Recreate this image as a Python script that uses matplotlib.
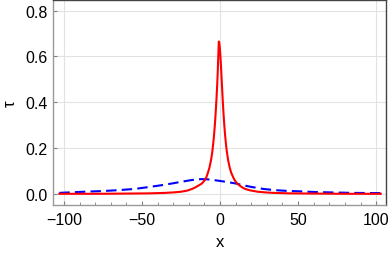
#!/usr/bin/env python3
import numpy as np
import matplotlib
matplotlib.use("Agg")
import matplotlib.pyplot as plt
from matplotlib.ticker import MultipleLocator, FixedLocator

plt.rcParams["font.family"] = ["Liberation Sans", "DejaVu Sans"]

## values
# red solid curve (sharp peak)
x_red = [-103, -80, -60, -45, -35, -30, -25, -21, -18, -15.8, -13.8, -12, -10.8,
         -9.6, -8.8, -7.8, -6.8, -5.8, -5.3, -4.8, -4.3, -3.8, -3.3, -2.8, -2.3,
         -1.8, -1.4, -1.1, -0.8, -0.5, -0.2, 0.2, 0.7, 1.2, 1.7, 2.2, 2.7, 3.2,
         3.7, 4.2, 5.2, 6.2, 7.2, 8.0, 9.2, 11.2, 14.2, 16.2, 19.2, 24.2, 29.2,
         34.2, 44.2, 59.2, 80, 103]
y_red = [0.001, 0.001, 0.002, 0.003, 0.005, 0.007, 0.010, 0.015, 0.022, 0.029,
         0.037, 0.044, 0.052, 0.062, 0.073, 0.092, 0.115, 0.147, 0.168, 0.193,
         0.224, 0.260, 0.303, 0.354, 0.412, 0.478, 0.545, 0.606, 0.665, 0.659,
         0.642, 0.606, 0.545, 0.478, 0.412, 0.354, 0.303, 0.260, 0.224, 0.193,
         0.147, 0.115, 0.092, 0.080, 0.062, 0.044, 0.029, 0.022, 0.016, 0.010,
         0.007, 0.005, 0.003, 0.002, 0.001, 0.001]

# blue dashed curve (broad bump)
x_blue = [-103, -100, -87, -75, -65, -55, -45, -40, -35, -30, -25, -20, -16, -12,
          -8, -4, 0, 5, 10, 15, 20, 28, 35, 42, 50, 60, 71, 85, 103]
y_blue = [0.005, 0.006, 0.010, 0.013, 0.017, 0.022, 0.031, 0.036, 0.041, 0.047,
          0.053, 0.059, 0.063, 0.065, 0.064, 0.061, 0.057, 0.052, 0.046, 0.038,
          0.031, 0.022, 0.017, 0.014, 0.012, 0.009, 0.007, 0.005, 0.004]

x_ticks = [-100, -50, 0, 50, 100]
x_tick_labels = ["\u2212100", "\u221250", "0", "50", "100"]
y_ticks = [0.0, 0.2, 0.4, 0.6, 0.8]
y_tick_labels = ["0.0", "0.2", "0.4", "0.6", "0.8"]
x_grid = [-100, 0, 100]

## plot
fig = plt.figure(figsize=(3.9, 2.55), dpi=100)
ax = fig.add_axes([0.136, 0.192, 0.854, 0.806])

for yi in y_ticks:
    ax.axhline(yi, color="#e2e2e2", lw=0.8, zorder=0)
for xi in x_grid:
    ax.axvline(xi, color="#e2e2e2", lw=0.8, zorder=0)

ax.plot(x_red, y_red, color="#ff0000", lw=1.5, zorder=3)
ax.plot(x_blue, y_blue, color="#0000ff", lw=1.5, dashes=(5, 2.5), zorder=2)

ax.set_xlim(-107, 106.4)
ax.set_ylim(-0.048, 0.848)

ax.xaxis.set_major_locator(FixedLocator(x_ticks))
ax.set_xticklabels(x_tick_labels)
ax.xaxis.set_minor_locator(MultipleLocator(10))
ax.yaxis.set_major_locator(FixedLocator(y_ticks))
ax.set_yticklabels(y_tick_labels)

ax.tick_params(which="both", direction="in", top=False, right=False,
               labelsize=11.5, colors="#808080", labelcolor="black")
ax.tick_params(which="major", length=3, width=0.8)
ax.tick_params(which="minor", length=2, width=0.6)
ax.tick_params(axis="x", pad=5)
ax.tick_params(axis="y", pad=4)

for side in ["left", "bottom"]:
    ax.spines[side].set_color("#999999")
    ax.spines[side].set_linewidth(1.0)
for side in ["top", "right"]:
    ax.spines[side].set_color("#444444")
    ax.spines[side].set_linewidth(1.0)

ax.set_xlabel("x", fontsize=12, labelpad=5)
ax.set_ylabel("\u03c4", fontsize=12, labelpad=5)

fig.savefig("out.png", dpi=100)
